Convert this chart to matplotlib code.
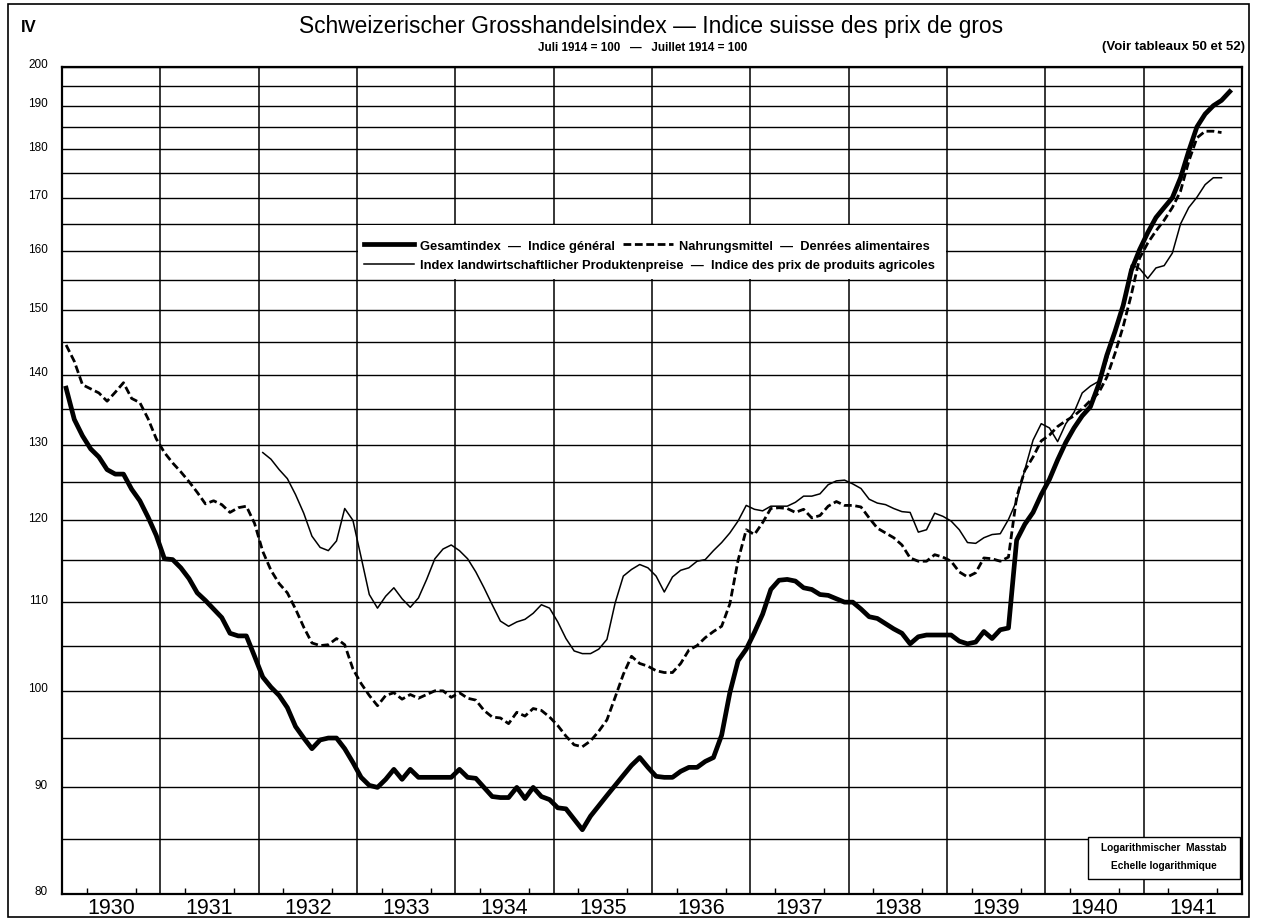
import numpy as np
import matplotlib.pyplot as plt
from matplotlib.patches import Rectangle
from matplotlib.lines import Line2D
from matplotlib.ticker import FixedLocator, NullFormatter, FixedFormatter
from matplotlib.transforms import ScaledTranslation

plt.rcParams['font.family'] = ['Liberation Sans', 'DejaVu Sans']

# monthly index values (Juli 1914 = 100), Jan 1930 onward
gesamt = [
    138, 133.5, 131.2, 129.4, 128.3, 126.6, 126, 126, 124, 122.5, 120.4, 118.1,      # 1930
    115.2, 115.1, 114.1, 112.8, 111.1, 110.2, 109.2, 108.2, 106.4, 106.1, 106.1, 103.8,  # 1931
    101.5, 100.4, 99.5, 98.2, 96.2, 95, 93.9, 94.8, 95, 95, 93.9, 92.5,              # 1932
    91, 90.2, 90, 90.8, 91.8, 90.8, 91.8, 91, 91, 91, 91, 91,                        # 1933
    91.8, 91, 90.9, 90, 89.1, 89, 89, 90, 88.9, 90, 89.1, 88.8,                      # 1934
    88, 87.9, 86.9, 85.9, 87.2, 88.2, 89.2, 90.2, 91.2, 92.2, 93, 92,                # 1935
    91.1, 91, 91, 91.6, 92, 92, 92.6, 93, 95.3, 99.8, 103.3, 104.6,                  # 1936
    106.5, 108.6, 111.5, 112.6, 112.7, 112.5, 111.7, 111.5, 110.9, 110.8, 110.4, 110,  # 1937
    110, 109.2, 108.3, 108.1, 107.5, 106.9, 106.4, 105.2, 106, 106.2, 106.2, 106.2,  # 1938
    106.2, 105.5, 105.2, 105.4, 106.6, 105.8, 106.8, 107, 117.5, 119.5, 121, 123.3,  # 1939
    125.3, 127.9, 130.3, 132.3, 134, 135.3, 138.5, 142.9, 146.6, 150.8, 156.7, 160.3,  # 1940
    163.4, 166.2, 168.1, 170, 174, 179.6, 185, 188, 190, 191.3, 193.5,               # 1941
]

nahrung = [
    144.5, 142, 138.5, 137.9, 137.3, 136.1, 137.4, 138.8, 136.5, 135.9, 133.6, 130.8,
    128.9, 127.5, 126.3, 125, 123.6, 122.1, 122.5, 122, 121, 121.6, 121.8, 119.6,
    116.1, 113.8, 112.2, 111.1, 109.2, 107.1, 105.3, 105, 105.1, 105.8, 105.1, 102.4,
    100.8, 99.5, 98.4, 99.5, 99.8, 99.1, 99.6, 99.2, 99.6, 100, 100, 99.3,
    99.8, 99.2, 99, 97.9, 97.2, 97.1, 96.5, 97.7, 97.3, 98.1, 97.9, 97.2,
    96.3, 95.2, 94.3, 94.1, 94.7, 95.7, 96.9, 99.3, 101.8, 103.8, 103, 102.7,
    102.2, 102, 102, 103, 104.5, 105, 105.9, 106.6, 107.2, 109.8, 115, 118.8,
    118.2, 119.7, 121.5, 121.6, 121.5, 121, 121.4, 120.3, 120.6, 121.8, 122.4, 121.9,
    121.9, 121.7, 120.3, 119, 118.4, 117.8, 116.9, 115.3, 114.9, 114.9, 115.7, 115.4,
    114.9, 113.6, 113, 113.5, 115.3, 115.2, 114.9, 115.4, 123, 126.5, 128.3, 130.5,
    131.3, 132.5, 133.3, 134, 135, 136.2, 137.3, 139.6, 143.2, 147.4, 152.6, 158.8,
    161.5, 163.7, 165.7, 168.1, 171.3, 177.4, 182.5, 184, 184, 183.7,
]

# agricultural prices start in January 1932
agrar_start = 24
agrar = [
    128.9, 128, 126.6, 125.4, 123.3, 120.9, 118, 116.6, 116.2, 117.4, 121.5, 120,
    115.4, 110.9, 109.3, 110.7, 111.7, 110.4, 109.4, 110.5, 112.7, 115.2, 116.4, 116.9,
    116.2, 115.2, 113.6, 111.7, 109.7, 107.8, 107.2, 107.7, 108, 108.7, 109.7, 109.3,
    107.7, 105.8, 104.4, 104.1, 104.1, 104.6, 105.7, 109.9, 113.1, 113.9, 114.5, 114.1,
    113.1, 111.2, 113, 113.8, 114.1, 114.9, 115.1, 116.2, 117.2, 118.4, 119.9, 121.9,
    121.4, 121.2, 121.8, 121.8, 121.8, 122.3, 123.1, 123.1, 123.4, 124.6, 125.1, 125.2,
    124.7, 124.1, 122.7, 122.2, 122, 121.5, 121.1, 121, 118.5, 118.8, 120.9, 120.5,
    119.9, 118.8, 117.2, 117.1, 117.8, 118.2, 118.3, 120.1, 122.5, 126.6, 130.6, 132.9,
    132.3, 130.4, 132.9, 134.5, 137.3, 138.3, 139, 142.1, 146.8, 151, 157.6, 157,
    155.3, 157.1, 157.5, 159.7, 165, 168.1, 170.1, 172.6, 174, 174,
]

years = list(range(1930, 1942))
y_labels = list(range(80, 201, 10))
y_grid = list(range(80, 201, 5))


def month_pos(first, n):
    return 1930 + (first + np.arange(n) + 0.5) / 12


# log scale as printed: the sheet is slightly squeezed towards the top
L0, L1 = np.log(80), np.log(200)
WARP = 0.195


def _fwd_u(u):
    uc = np.clip(u, 0, 1)
    return u + WARP * uc ** 3 * (1 - uc)


def fwd(y):
    y = np.maximum(np.asarray(y, dtype=float), 1e-9)
    return _fwd_u((np.log(y) - L0) / (L1 - L0))


_uu = np.linspace(-3, 4, 7001)
_vv = _fwd_u(_uu)


def inv(v):
    u = np.interp(np.asarray(v, dtype=float), _vv, _uu)
    return np.exp(L0 + u * (L1 - L0))


fig = plt.figure(figsize=(12.61, 9.2), dpi=100)
ax = fig.add_axes([62 / 1261, 25 / 920, 1180 / 1261, 827 / 920])
ax.set_yscale('function', functions=(fwd, inv))
ax.set_xlim(1930, 1942)
ax.set_ylim(80, 200)
ax.set_axisbelow(True)

# horizontal grid every 5, labels every 10
ax.yaxis.set_major_locator(FixedLocator(y_labels))
ax.yaxis.set_major_formatter(FixedFormatter([str(v) for v in y_labels]))
ax.yaxis.set_minor_locator(FixedLocator(y_grid))
ax.yaxis.set_minor_formatter(NullFormatter())
ax.grid(axis='y', which='both', color='black', lw=1.0)
ax.tick_params(axis='y', which='both', length=0, pad=10, labelsize=8.5)
off = ScaledTranslation(0, 4 / 100, fig.dpi_scale_trans)
for lab in ax.get_yticklabels():
    lab.set_transform(lab.get_transform() + off)

# years: labels centred, lines at boundaries, small quarter ticks
ax.set_xticks([y + 0.5 for y in years])
ax.set_xticklabels([str(y) for y in years])
ax.tick_params(axis='x', which='major', length=0, pad=2, labelsize=15.5)
ax.set_xticks([y + q / 4 for y in years for q in (1, 2, 3)], minor=True)
ax.tick_params(axis='x', which='minor', direction='in', length=4, width=1)
for y in years[1:]:
    ax.axvline(y, color='black', lw=1.1, zorder=1)

for s in ax.spines.values():
    s.set_linewidth(1.6)

# data
ax.plot(month_pos(0, len(gesamt)), gesamt, color='black', lw=3.4,
        solid_joinstyle='round', zorder=4)
ax.plot(month_pos(0, len(nahrung)), nahrung, color='black', lw=2.0,
        dashes=(2.8, 1.3), zorder=4)
ax.plot(month_pos(agrar_start, len(agrar)), agrar, color='black', lw=1.1, zorder=4)

# legend area (white box over the grid)
ax.add_patch(Rectangle((1933.01, 155.25), 5.98, 9.6, facecolor='white',
                       edgecolor='none', zorder=2))
h_g = Line2D([], [], color='black', lw=3.4)
h_n = Line2D([], [], color='black', lw=2.0, dashes=(2.8, 1.3))
h_a = Line2D([], [], color='black', lw=1.1)
leg_kw = dict(frameon=False, handlelength=3.9, handletextpad=0.45,
              borderpad=0, borderaxespad=0, columnspacing=0.6,
              bbox_transform=ax.transData, prop={'weight': 'bold', 'size': 9.3})
leg1 = ax.legend([h_g, h_n], ['Gesamtindex  —  Indice général',
                              'Nahrungsmittel  —  Denrées alimentaires'],
                 ncol=2, loc='center left', bbox_to_anchor=(1933.07, 161.0), **leg_kw)
ax.add_artist(leg1)
ax.legend([h_a], ['Index landwirtschaftlicher Produktenpreise  —  Indice des prix de produits agricoles'],
          loc='center left', bbox_to_anchor=(1933.07, 157.6), **leg_kw)

# scale note bottom right
ax.add_patch(Rectangle((0.8695, 0.018), 0.1285, 0.051, transform=ax.transAxes,
                       facecolor='white', edgecolor='black', lw=1.0, zorder=5))
ax.text(0.934, 0.057, 'Logarithmischer  Masstab', transform=ax.transAxes,
        ha='center', va='center', fontsize=7.3, weight='bold', zorder=6)
ax.text(0.934, 0.035, 'Echelle logarithmique', transform=ax.transAxes,
        ha='center', va='center', fontsize=7.3, weight='bold', zorder=6)

# titles and frame
fig.text(651 / 1261, 1 - 26 / 920,
         'Schweizerischer Grosshandelsindex — Indice suisse des prix de gros',
         ha='center', va='center', fontsize=16.4)
fig.text(643 / 1261, 1 - 48 / 920, 'Juli 1914 = 100   —   Juillet 1914 = 100',
         ha='center', va='center', fontsize=8.4, weight='bold')
fig.text(1245 / 1261, 1 - 47 / 920, '(Voir tableaux 50 et 52)',
         ha='right', va='center', fontsize=9.5, weight='bold')
fig.text(21 / 1261, 1 - 27 / 920, 'IV', ha='left', va='center', fontsize=12,
         weight='bold')
fig.patches.append(Rectangle((8 / 1261, 2 / 920), 1241 / 1261, 913 / 920,
                             transform=fig.transFigure, fill=False,
                             edgecolor='black', lw=1.2))

fig.savefig('out.png', dpi=100)
